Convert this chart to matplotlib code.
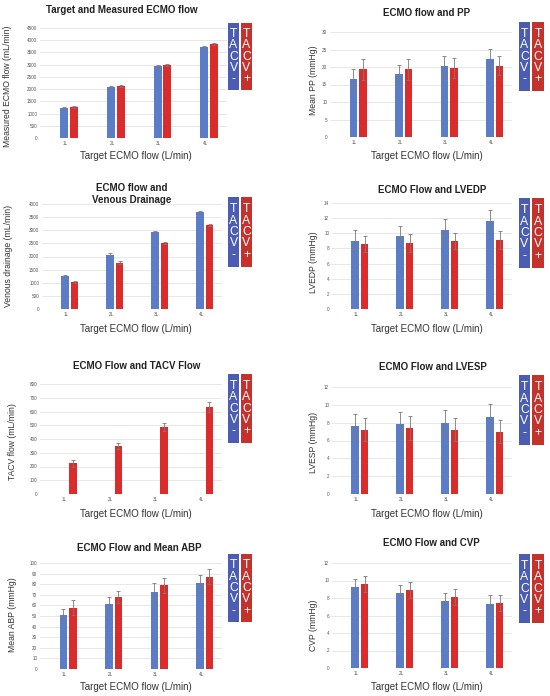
import matplotlib
matplotlib.use("Agg")
import matplotlib.pyplot as plt
from matplotlib.patches import Rectangle
import numpy as np

plt.rcParams['font.family'] = ['Liberation Sans', 'DejaVu Sans']

categories = ["1L", "2L", "3L", "4L"]
series_names = ["TACV -", "TACV +"]

# Panel data (mean, sd) for TACV- and TACV+
ecmo_minus = [1230, 2090, 2930, 3720]
ecmo_minus_err = [50, 50, 50, 50]
ecmo_plus = [1250, 2110, 3000, 3850]
ecmo_plus_err = [40, 40, 40, 50]

pp_minus = [16.5, 17.9, 20.3, 22.3]
pp_minus_err = [2.8, 2.8, 2.8, 2.8]
pp_plus = [19.3, 19.4, 19.8, 20.4]
pp_plus_err = [3.0, 3.0, 2.8, 2.8]

vd_minus = [1250, 2070, 2920, 3700]
vd_minus_err = [50, 50, 60, 50]
vd_plus = [1030, 1760, 2500, 3200]
vd_plus_err = [50, 50, 40, 40]

lvedp_minus = [9.0, 9.7, 10.5, 11.6]
lvedp_minus_err = [1.4, 1.3, 1.4, 1.5]
lvedp_plus = [8.6, 8.7, 9.0, 9.1]
lvedp_plus_err = [1.1, 1.2, 1.1, 1.2]

tacv_minus = [0, 0, 0, 0]
tacv_minus_err = [0, 0, 0, 0]
tacv_plus = [225, 350, 490, 635]
tacv_plus_err = [25, 20, 30, 35]

lvesp_minus = [7.6, 7.8, 8.0, 8.6]
lvesp_minus_err = [1.4, 1.4, 1.4, 1.5]
lvesp_plus = [7.2, 7.4, 7.2, 7.0]
lvesp_plus_err = [1.3, 1.3, 1.3, 1.3]

abp_minus = [51, 61, 73, 81]
abp_minus_err = [6, 7, 8, 8]
abp_plus = [58, 68, 79, 87]
abp_plus_err = [7, 6, 7, 7]

cvp_minus = [9.3, 8.6, 7.7, 7.3]
cvp_minus_err = [0.9, 0.9, 0.9, 1.0]
cvp_plus = [9.6, 8.9, 8.1, 7.4]
cvp_plus_err = [0.9, 0.9, 0.9, 0.9]

W, H = 550, 696
fig = plt.figure(figsize=(W / 100, H / 100), dpi=100)

BLUE = "#5b7cc6"
RED = "#dc2b2b"
BOX_BLUE = "#4a5db3"
BOX_RED = "#c5312b"

panels = [
    dict(title="Target and Measured ECMO flow", ylabel="Measured ECMO flow (mL/min)",
         m=ecmo_minus, me=ecmo_minus_err, p=ecmo_plus, pe=ecmo_plus_err,
         ax=(40, 227, 28, 138), ymax=4500, step=500,
         tpos=(122, 10), xl=(136, 156), yl=(8, 86),
         box=(228, 239, 241, 252, 23, 90)),
    dict(title="ECMO flow and PP", ylabel="Mean PP (mmHg)",
         m=pp_minus, me=pp_minus_err, p=pp_plus, pe=pp_plus_err,
         ax=(330, 512, 32, 137), ymax=30, step=5,
         tpos=(427, 13), xl=(427, 156), yl=(313, 80),
         box=(519, 530, 532, 544, 22, 91)),
    dict(title="ECMO flow and\nVenous Drainage", ylabel="Venous drainage (mL/min)",
         m=vd_minus, me=vd_minus_err, p=vd_plus, pe=vd_plus_err,
         ax=(42, 222, 204, 309), ymax=4000, step=500,
         tpos=(132, 194), xl=(136, 329), yl=(9, 256),
         box=(228, 239, 241, 252, 197, 267)),
    dict(title="ECMO Flow and LVEDP", ylabel="LVEDP (mmHg)",
         m=lvedp_minus, me=lvedp_minus_err, p=lvedp_plus, pe=lvedp_plus_err,
         ax=(332, 512, 203, 309), ymax=14, step=2,
         tpos=(432, 190), xl=(427, 329), yl=(313, 262),
         box=(519, 530, 532, 544, 198, 268)),
    dict(title="ECMO Flow and TACV Flow", ylabel="TACV flow (mL/min)",
         m=tacv_minus, me=tacv_minus_err, p=tacv_plus, pe=tacv_plus_err,
         ax=(40, 222, 384, 494), ymax=800, step=100,
         tpos=(137, 366), xl=(136, 514), yl=(13, 442),
         box=(228, 239, 241, 252, 374, 443)),
    dict(title="ECMO Flow and LVESP", ylabel="LVESP (mmHg)",
         m=lvesp_minus, me=lvesp_minus_err, p=lvesp_plus, pe=lvesp_plus_err,
         ax=(332, 512, 387, 494), ymax=12, step=2,
         tpos=(433, 367), xl=(427, 514), yl=(313, 442),
         box=(519, 530, 532, 544, 375, 445)),
    dict(title="ECMO Flow and Mean ABP", ylabel="Mean ABP (mmHg)",
         m=abp_minus, me=abp_minus_err, p=abp_plus, pe=abp_plus_err,
         ax=(40, 222, 563, 669), ymax=100, step=10,
         tpos=(139, 548), xl=(136, 687), yl=(13, 615),
         box=(228, 239, 241, 252, 554, 622)),
    dict(title="ECMO Flow and CVP", ylabel="CVP (mmHg)",
         m=cvp_minus, me=cvp_minus_err, p=cvp_plus, pe=cvp_plus_err,
         ax=(332, 512, 563, 668), ymax=12, step=2,
         tpos=(431, 543), xl=(427, 687), yl=(313, 625),
         box=(519, 530, 532, 544, 554, 623)),
]


def fx(px):
    return px / W


def fy(py):
    return 1 - py / H


x = np.arange(len(categories))
bw = 0.17
off = 0.105

for P in panels:
    x0, x1, y0, y1 = P["ax"]
    ax = fig.add_axes([fx(x0), fy(y1), fx(x1) - fx(x0), fy(y0) - fy(y1)])
    ax.bar(x - off, P["m"], width=bw, color=BLUE, zorder=2)
    ax.bar(x + off, P["p"], width=bw, color=RED, zorder=2)
    errkw = dict(fmt="none", ecolor="#7a7a7a", elinewidth=0.6, capsize=1.3, capthick=0.6, zorder=3)
    em = np.array(P["me"])
    mask = np.array(P["m"]) > 0
    if mask.any():
        ax.errorbar((x - off)[mask], np.array(P["m"])[mask], yerr=em[mask], **errkw)
    ax.errorbar(x + off, P["p"], yerr=P["pe"], **errkw)
    ax.set_xlim(-0.62, 3.38)
    ax.set_ylim(0, P["ymax"])
    ax.set_yticks(np.arange(0, P["ymax"] + P["step"] / 2, P["step"]))
    ax.set_xticks(x - 0.08)
    ax.set_xticklabels(categories)
    ax.tick_params(axis="both", length=0, labelsize=3.3, colors="#555555", pad=2)
    ax.yaxis.grid(True, color="#e3e3e3", linewidth=0.6, zorder=0)
    ax.set_axisbelow(True)
    for s in ax.spines.values():
        s.set_visible(False)

    fig.text(fx(P["tpos"][0]), fy(P["tpos"][1]), P["title"], ha="center", va="center",
             fontsize=7.0, fontweight="bold", color="#222222", linespacing=1.2)
    fig.text(fx(P["xl"][0]), fy(P["xl"][1]), "Target ECMO flow (L/min)", ha="center",
             va="center", fontsize=7.0, color="#333333")
    fig.text(fx(P["yl"][0]), fy(P["yl"][1]), P["ylabel"], ha="center", va="center",
             rotation=90, fontsize=6.2, color="#333333")

    bx0, bx1, rx0, rx1, by0, by1 = P["box"]
    for (a, b, col, name) in [(bx0, bx1, BOX_BLUE, series_names[0]),
                              (rx0, rx1, BOX_RED, series_names[1])]:
        fig.patches.append(Rectangle((fx(a), fy(by1)), fx(b) - fx(a), fy(by0) - fy(by1),
                                     transform=fig.transFigure, facecolor=col,
                                     edgecolor="none"))
        label = "\n".join(name.replace(" ", ""))
        fig.text(fx((a + b) / 2), fy((by0 + by1) / 2), label, ha="center", va="center",
                 color="white", fontsize=8.8, linespacing=0.93)

fig.savefig("out.png", dpi=100)
